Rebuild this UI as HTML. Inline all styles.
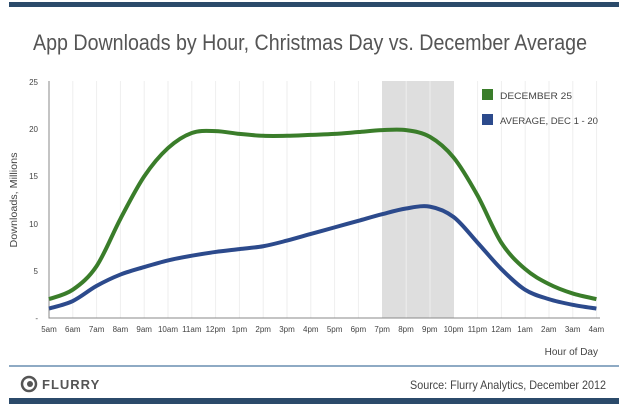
<!DOCTYPE html>
<html><head><meta charset="utf-8"><style>
body{margin:0;width:619px;height:415px;background:#fff;overflow:hidden;font-family:"Liberation Sans",sans-serif}
</style></head><body>
<svg id="s" width="619" height="415" xmlns="http://www.w3.org/2000/svg" font-family="Liberation Sans, sans-serif">
<rect x="9" y="2" width="610" height="5" fill="#2b4a6a"/>
<text x="33" y="50" font-size="22" fill="#555" textLength="554" lengthAdjust="spacingAndGlyphs">App Downloads by Hour, Christmas Day vs. December Average</text>
<rect x="382" y="81" width="72" height="237" fill="#dedede"/>
<g stroke="#eee" stroke-width="1">
<path d="M72.8 81V318M96.6 81V318M120.4 81V318M144.2 81V318M168 81V318M191.8 81V318M215.6 81V318M239.4 81V318M263.2 81V318M287 81V318M310.8 81V318M334.6 81V318M358.4 81V318M406.2 81V318M430 81V318M477.6 81V318M501.4 81V318M525.2 81V318M549 81V318M572.8 81V318M596.6 81V318"/>
</g>
<path d="M49 81V318H600" stroke="#888" fill="none"/>
<g font-size="8" fill="#444" text-anchor="end">
<text x="38" y="85">25</text><text x="38" y="132">20</text><text x="38" y="179">15</text><text x="38" y="227">10</text><text x="38" y="274">5</text><text x="38" y="321">-</text>
</g>
<text transform="translate(17,200) rotate(-90)" font-size="10" fill="#444" text-anchor="middle" textLength="95" lengthAdjust="spacingAndGlyphs">Downloads, Millions</text>
<g font-size="8" fill="#444" text-anchor="middle">
<text x="49" y="332">5am</text><text x="72.8" y="332">6am</text><text x="96.6" y="332">7am</text><text x="120.4" y="332">8am</text><text x="144.2" y="332">9am</text><text x="168" y="332">10am</text><text x="191.8" y="332">11am</text><text x="215.6" y="332">12pm</text><text x="239.4" y="332">1pm</text><text x="263.2" y="332">2pm</text><text x="287" y="332">3pm</text><text x="310.8" y="332">4pm</text><text x="334.6" y="332">5pm</text><text x="358.4" y="332">6pm</text><text x="382.2" y="332">7pm</text><text x="406" y="332">8pm</text><text x="429.8" y="332">9pm</text><text x="453.6" y="332">10pm</text><text x="477.4" y="332">11pm</text><text x="501.2" y="332">12am</text><text x="525" y="332">1am</text><text x="548.8" y="332">2am</text><text x="572.6" y="332">3am</text><text x="596.4" y="332">4am</text>
</g>
<text x="598" y="355" font-size="10" fill="#444" text-anchor="end">Hour of Day</text>
<path id="g" stroke="#3a7d2a" stroke-width="4" fill="none"/>
<path id="b" stroke="#2c4a8c" stroke-width="4" fill="none"/>
<rect x="482" y="89" width="11" height="11" fill="#3a7d2a"/>
<text x="500" y="99" font-size="9" fill="#444" textLength="72" lengthAdjust="spacingAndGlyphs">DECEMBER 25</text>
<rect x="482" y="114" width="11" height="11" fill="#2c4a8c"/>
<text x="500" y="124" font-size="9" fill="#444" textLength="98" lengthAdjust="spacingAndGlyphs">AVERAGE, DEC 1 - 20</text>
<rect x="9" y="365" width="610" height="2" fill="#8eaac4"/>
<circle cx="29" cy="384" r="7" fill="none" stroke="#555" stroke-width="2.5"/>
<circle cx="30" cy="384" r="3" fill="#555"/>
<text x="42" y="389" font-size="13" font-weight="bold" fill="#555" letter-spacing="1">FLURRY</text>
<text x="606" y="389" font-size="12" fill="#444" text-anchor="end" textLength="196" lengthAdjust="spacingAndGlyphs">Source: Flurry Analytics, December 2012</text>
<rect x="9" y="398" width="610" height="6" fill="#2b4a6a"/>
</svg>
<script>
function path(v){var p=v.map(function(y,i){return[49+i*23.8,318-y*9.44]});var d="M"+p[0][0]+" "+p[0][1];
for(var i=0;i<p.length-1;i++){var a=p[Math.max(i-1,0)],b=p[i],c=p[i+1],e=p[Math.min(i+2,p.length-1)];
d+=" C"+(b[0]+(c[0]-a[0])/6)+" "+(b[1]+(c[1]-a[1])/6)+","+(c[0]-(e[0]-b[0])/6)+" "+(c[1]-(e[1]-b[1])/6)+","+c[0]+" "+c[1];}return d;}
document.getElementById("g").setAttribute("d",path([2,3,5.5,10.5,15,18,19.6,19.8,19.5,19.3,19.3,19.4,19.5,19.7,19.9,19.9,19.2,17,13,8,5.2,3.6,2.6,2]));
document.getElementById("b").setAttribute("d",path([1,1.8,3.4,4.6,5.4,6.1,6.6,7,7.3,7.6,8.2,8.9,9.6,10.3,11,11.6,11.8,10.7,8,5.2,3,2,1.4,1]));
</script>
</body></html>
